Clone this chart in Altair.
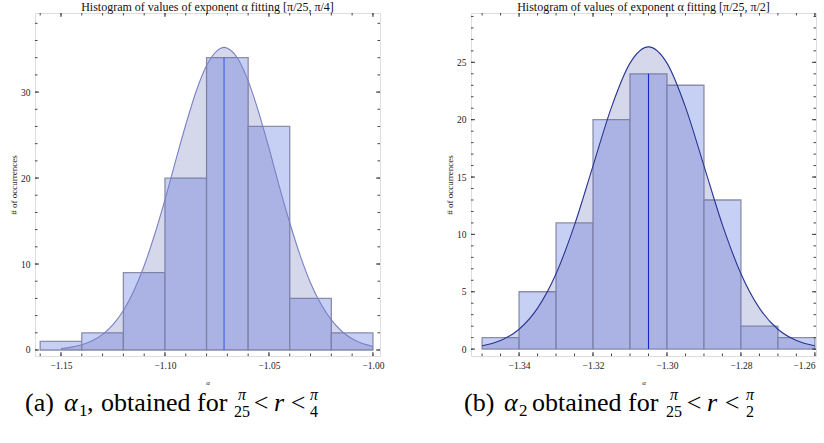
import altair as alt
import pandas as pd

# ---------------- data: panel (a) ----------------
a_bin_start = [-1.16, -1.14, -1.12, -1.10, -1.08, -1.06, -1.04, -1.02]
a_bin_end = [-1.14, -1.12, -1.10, -1.08, -1.06, -1.04, -1.02, -1.00]
a_counts = [1, 2, 9, 20, 34, 26, 6, 2]
a_curve_x = [-1.15, -1.145, -1.14, -1.135, -1.13, -1.125, -1.12, -1.115, -1.11, -1.105,
             -1.10, -1.095, -1.09, -1.085, -1.08, -1.075, -1.0716, -1.07, -1.065, -1.06,
             -1.055, -1.05, -1.045, -1.04, -1.035, -1.03, -1.025, -1.02, -1.015, -1.01,
             -1.005, -1.00]
a_curve_y = [0.17, 0.33, 0.61, 1.07, 1.82, 2.96, 4.6, 6.86, 9.8, 13.4,
             17.5, 21.9, 26.2, 30.1, 33.1, 34.8, 35.2, 35.1, 33.9, 31.3,
             27.7, 23.5, 19.0, 14.8, 11.0, 7.8, 5.34, 3.5, 2.18, 1.31,
             0.75, 0.41]
a_mean = [-1.0716]
a_mean_top = [34]
a_x_major = [-1.15, -1.10, -1.05, -1.00]
a_x_minor = [-1.16, -1.15, -1.14, -1.13, -1.12, -1.11, -1.10, -1.09, -1.08, -1.07,
             -1.06, -1.05, -1.04, -1.03, -1.02, -1.01, -1.00]
a_y_major = [0, 10, 20, 30]
a_y_minor = [0, 2, 4, 6, 8, 10, 12, 14, 16, 18, 20, 22, 24, 26, 28, 30, 32, 34, 36, 38]
a_x_domain = [-1.1625, -0.9966]
a_y_domain = [-0.7, 39.2]
a_title = "Histogram of values of exponent α fitting [π/25, π/4]"

# ---------------- data: panel (b) ----------------
b_bin_start = [-1.35, -1.34, -1.33, -1.32, -1.31, -1.30, -1.29, -1.28, -1.27]
b_bin_end = [-1.34, -1.33, -1.32, -1.31, -1.30, -1.29, -1.28, -1.27, -1.26]
b_counts = [1, 5, 11, 20, 24, 23, 13, 2, 1]
b_curve_x = [-1.35, -1.345, -1.34, -1.335, -1.33, -1.325, -1.32, -1.315, -1.31, -1.305,
             -1.30, -1.295, -1.29, -1.285, -1.28, -1.275, -1.27, -1.265, -1.26]
b_curve_y = [0.29, 0.75, 1.73, 3.57, 6.57, 10.83, 15.98, 21.10, 24.93, 26.35,
             24.93, 21.10, 15.98, 10.83, 6.57, 3.57, 1.73, 0.75, 0.29]
b_mean = [-1.305]
b_mean_top = [24]
b_x_major = [-1.34, -1.32, -1.30, -1.28, -1.26]
b_x_minor = [-1.35, -1.345, -1.34, -1.335, -1.33, -1.325, -1.32, -1.315, -1.31, -1.305,
             -1.30, -1.295, -1.29, -1.285, -1.28, -1.275, -1.27, -1.265, -1.26]
b_y_major = [0, 5, 10, 15, 20, 25]
b_y_minor = list(range(0, 30))
b_x_domain = [-1.353, -1.2597]
b_y_domain = [-0.6, 29.3]
b_title = "Histogram of values of exponent α fitting [π/25, π/2]"

# captions: (text, x offset from plot left, y from plot top, size, italic, align)
a_caption = [("(a)", -10, 398, 26, False, "left"), ("α", 29, 398, 26, True, "left"),
             ("1", 44, 403, 17, False, "left"), (",", 52, 398, 26, False, "left"),
             ("obtained for", 66, 398, 26, False, "left"),
             ("π", 207, 387, 16, True, "center"), ("25", 207, 404, 16, False, "center"),
             ("<", 226, 398, 26, False, "center"), ("r", 244, 398, 26, True, "center"),
             ("<", 263, 398, 26, False, "center"),
             ("π", 279, 387, 16, True, "center"), ("4", 279, 404, 16, False, "center")]
b_caption = [("(b)", -7, 398, 26, False, "left"), ("α", 33, 398, 26, True, "left"),
             ("2", 48, 403, 17, False, "left"),
             ("obtained for", 61, 398, 26, False, "left"),
             ("π", 203, 387, 16, True, "center"), ("25", 203, 404, 16, False, "center"),
             ("<", 223, 398, 26, False, "center"), ("r", 241, 398, 26, True, "center"),
             ("<", 261, 398, 26, False, "center"),
             ("π", 279, 387, 16, True, "center"), ("2", 279, 404, 16, False, "center")]

W, H = 345, 343
SERIF = "Liberation Serif"
FRAME = "#444444"


def panel(starts, ends, counts, cx, cy, mean, mean_top, xmaj, xmin, ymaj, ymin,
          xdom, ydom, title, curve_color, mean_color, caption, flush):
    xaxis = alt.Axis(values=xmaj, format=".2f", title="α", ticks=False, domain=False,
                     grid=False, labelFont=SERIF, labelFontSize=9.5, labelColor="#222",
                     labelPadding=4, labelFlush=flush, titleFont=SERIF, titleFontSize=7,
                     titleFontStyle="italic", titleFontWeight="normal",
                     titlePadding=9, titleColor="#222")
    yaxis = alt.Axis(values=ymaj, format="d", title="# of occurrences", ticks=False,
                     domain=False, grid=False, labelFont=SERIF, labelFontSize=9.5,
                     labelColor="#222", labelPadding=5, titleFont=SERIF,
                     titleFontSize=9, titleFontWeight="normal", titlePadding=2,
                     titleColor="#222")
    xs = alt.Scale(domain=xdom, nice=False, zero=False)
    ys = alt.Scale(domain=ydom, nice=False, zero=False)

    def X(f):
        return alt.X(f, type="quantitative", scale=xs, axis=xaxis)

    def Y(f):
        return alt.Y(f, type="quantitative", scale=ys, axis=yaxis)

    bars_df = pd.DataFrame({"start": starts, "end": ends, "count": counts})
    curve_df = pd.DataFrame({"x": cx, "y": cy})
    mean_df = pd.DataFrame({"m": mean, "top": mean_top})

    bars = alt.Chart(bars_df).mark_rect(
        fill="#c6cff4", stroke="#8a8ea8", strokeWidth=1.3
    ).encode(x=X("start"), x2="end", y=Y("count"), y2=alt.datum(0))

    area = alt.Chart(curve_df).mark_area(
        color="#5860b1", opacity=0.25, interpolate="monotone"
    ).encode(x=X("x"), y=Y("y"), y2=alt.datum(0))

    line = alt.Chart(curve_df).mark_line(
        color=curve_color, strokeWidth=1.1, interpolate="monotone"
    ).encode(x=X("x"), y=Y("y"))

    mline = alt.Chart(mean_df).mark_rule(color=mean_color, strokeWidth=1.1).encode(
        x=X("m"), y=Y("top"), y2=alt.datum(0))

    layers = [bars, area, line, mline]

    def tickx(vals, length):
        df = pd.DataFrame({"v": vals})
        bot = alt.Chart(df).mark_rule(color=FRAME, strokeWidth=1).encode(
            x=X("v"), y=alt.value(H), y2=alt.value(H - length))
        top = alt.Chart(df).mark_rule(color=FRAME, strokeWidth=1).encode(
            x=X("v"), y=alt.value(0), y2=alt.value(length))
        return [bot, top]

    def ticky(vals, length):
        df = pd.DataFrame({"v": vals})
        lft = alt.Chart(df).mark_rule(color=FRAME, strokeWidth=1).encode(
            y=Y("v"), x=alt.value(0), x2=alt.value(length))
        rgt = alt.Chart(df).mark_rule(color=FRAME, strokeWidth=1).encode(
            y=Y("v"), x=alt.value(W), x2=alt.value(W - length))
        return [lft, rgt]

    layers += tickx(xmaj, 4) + tickx(xmin, 2.5) + ticky(ymaj, 4) + ticky(ymin, 2.5)

    for (t, px, py, size, ital, align) in caption:
        layers.append(
            alt.Chart(pd.DataFrame({"t": [t]})).mark_text(
                align=align, baseline="alphabetic", font=SERIF, fontSize=size,
                fontStyle="italic" if ital else "normal", color="black"
            ).encode(text="t:N", x=alt.value(px), y=alt.value(py))
        )

    return alt.layer(*layers).properties(
        width=W, height=H,
        title=alt.Title(title, font=SERIF, fontSize=12, fontWeight="normal",
                        color="#111", offset=-1, anchor="middle"))


pa = panel(a_bin_start, a_bin_end, a_counts, a_curve_x, a_curve_y, a_mean, a_mean_top,
           a_x_major, a_x_minor, a_y_major, a_y_minor, a_x_domain, a_y_domain,
           a_title, "#7a80c6", "#3a5cf0", a_caption, False)
pb = panel(b_bin_start, b_bin_end, b_counts, b_curve_x, b_curve_y, b_mean, b_mean_top,
           b_x_major, b_x_minor, b_y_major, b_y_minor, b_x_domain, b_y_domain,
           b_title, "#283593", "#1428c8", b_caption, 6)

chart = alt.hconcat(pa, pb, spacing=91, bounds="flush").properties(
    padding={"left": 9, "top": 0, "right": 0, "bottom": 0}
).configure_view(stroke=FRAME, strokeWidth=1.3).configure(background="white")

chart.save("out.html", embed_options={"renderer": "svg", "actions": False})
